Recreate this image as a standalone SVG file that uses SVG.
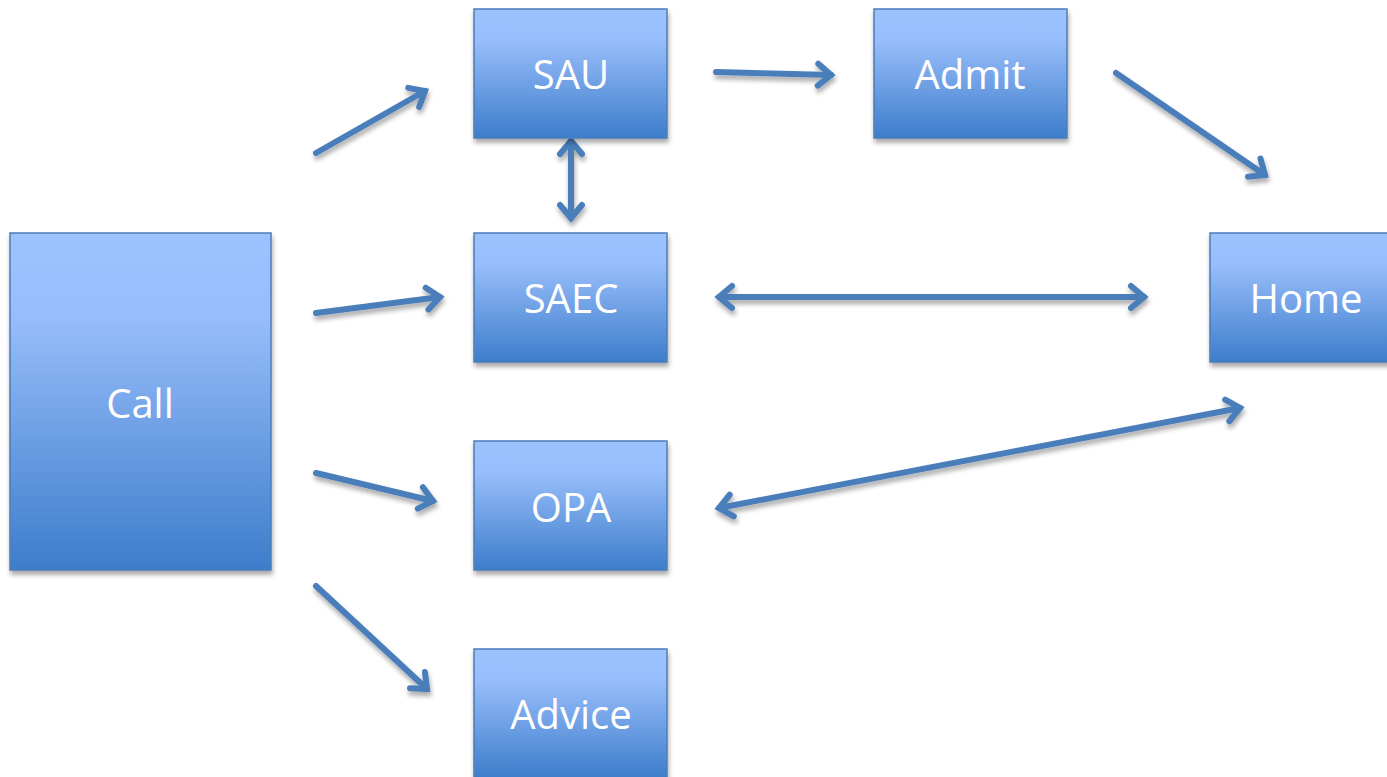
<svg xmlns="http://www.w3.org/2000/svg" width="1387" height="777" viewBox="0 0 1387 777">
<defs>
<linearGradient id="g" x1="0" y1="0" x2="0" y2="1">
<stop offset="0" stop-color="#9dc3ff"/>
<stop offset="0.25" stop-color="#97bdfa"/>
<stop offset="1" stop-color="#3d7dcb"/>
</linearGradient>
<filter id="sh" x="-10%" y="-10%" width="130%" height="130%">
<feGaussianBlur in="SourceAlpha" stdDeviation="2.5"/>
<feOffset dx="1" dy="4" result="b"/>
<feComponentTransfer><feFuncA type="linear" slope="0.35"/></feComponentTransfer>
<feMerge><feMergeNode/><feMergeNode in="SourceGraphic"/></feMerge>
</filter>
<marker id="ah" markerUnits="userSpaceOnUse" viewBox="-24 -16 32 32" refX="0" refY="0" markerWidth="32" markerHeight="32" orient="auto-start-reverse" overflow="visible">
<path d="M-13,-11 L0,0 L-13,11" fill="none" stroke="#4a7ebb" stroke-width="6" stroke-linecap="round" stroke-linejoin="miter"/>
</marker>
<style>
.box{fill:url(#g);stroke:#4a7ebb;stroke-width:1.5;filter:url(#sh)}
.lbl{font-family:"Open Sans","Noto Sans",sans-serif;font-size:40px;fill:#ffffff;text-anchor:middle;dominant-baseline:central}
.c{fill:none;stroke:#4a7ebb;stroke-width:6;stroke-linecap:round;marker-end:url(#ah)}
.bi{marker-start:url(#ah)}
</style>
</defs>
<g id="connectors" filter="url(#sh)">
<line class="c" x1="316" y1="153" x2="425" y2="91"/>
<line class="c" x1="716" y1="72" x2="831" y2="75"/>
<line class="c" x1="1116" y1="73" x2="1265" y2="175"/>
<line class="c bi" x1="571" y1="141" x2="571" y2="218"/>
<line class="c" x1="316" y1="313" x2="440" y2="297"/>
<line class="c bi" x1="719" y1="297" x2="1144" y2="297"/>
<line class="c" x1="316" y1="473" x2="433" y2="501"/>
<line class="c bi" x1="719" y1="508" x2="1240" y2="408"/>
<line class="c" x1="316" y1="586" x2="427" y2="689"/>
</g>
<g id="node-call"><rect class="box" x="10" y="233" width="261" height="337"/><text class="lbl" x="140" y="402">Call</text></g>
<g id="node-sau"><rect class="box" x="474" y="9" width="193" height="129"/><text class="lbl" x="571" y="73">SAU</text></g>
<g id="node-admit"><rect class="box" x="874" y="9" width="193" height="129"/><text class="lbl" x="970" y="73">Admit</text></g>
<g id="node-saec"><rect class="box" x="474" y="233" width="193" height="129"/><text class="lbl" x="571" y="297">SAEC</text></g>
<g id="node-home"><rect class="box" x="1210" y="233" width="193" height="129"/><text class="lbl" x="1306" y="297">Home</text></g>
<g id="node-opa"><rect class="box" x="474" y="441" width="193" height="129"/><text class="lbl" x="571" y="506">OPA</text></g>
<g id="node-advice"><rect class="box" x="474" y="649" width="193" height="129"/><text class="lbl" x="571" y="713">Advice</text></g>
</svg>
